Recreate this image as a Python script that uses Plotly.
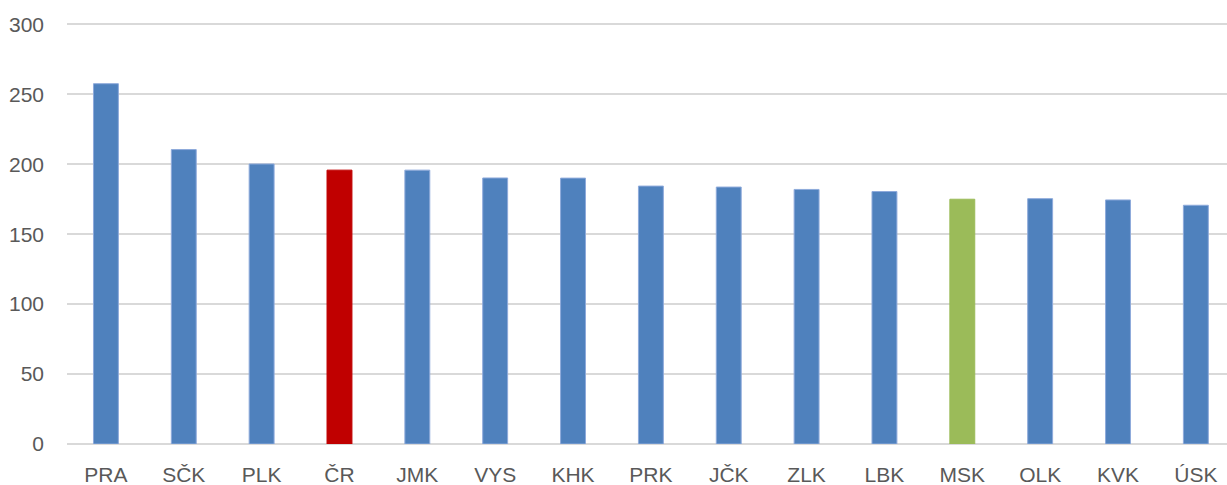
import plotly.graph_objects as go

categories = ["PRA", "SČK", "PLK", "ČR", "JMK", "VYS", "KHK", "PRK", "JČK", "ZLK", "LBK", "MSK", "OLK", "KVK", "ÚSK"]
values = [257.6, 210.5, 200.2, 195.8, 195.8, 190.2, 190.1, 184.4, 183.7, 182.0, 180.5, 175.0, 175.4, 174.5, 170.7]

BLUE = "#4f81bd"
RED = "#c00000"
GREEN = "#9bbb59"
highlight = {"ČR": RED, "MSK": GREEN}
colors = [highlight.get(c, BLUE) for c in categories]
line_colors = ["#8eaadb" if highlight.get(c) is None else highlight[c] for c in categories]

fig = go.Figure(go.Bar(
    x=categories, y=values,
    marker=dict(color=colors, line=dict(color=line_colors, width=1)),
    width=0.32,
))

font = dict(family="Liberation Sans, Arial, sans-serif", size=21, color="#595959")
fig.update_layout(
    width=1227, height=485,
    margin=dict(l=67, r=0, t=23, b=41),
    paper_bgcolor="white", plot_bgcolor="white",
    showlegend=False,
    font=font,
    xaxis=dict(range=[-0.5, 14.4], showgrid=False, showline=False, zeroline=False,
               ticks="", tickfont=font, ticklabelstandoff=16),
    yaxis=dict(range=[0, 301], tickvals=[0, 50, 100, 150, 200, 250, 300],
               showgrid=True, gridcolor="#d9d9d9", gridwidth=1.5,
               zeroline=True, zerolinecolor="#d9d9d9", zerolinewidth=2,
               showline=False, ticks="", tickfont=font, ticklabelstandoff=22),
)

fig.write_html("out.html", config={"displayModeBar": False},
               post_script="document.body.style.margin='0';document.body.style.overflow='hidden';")
